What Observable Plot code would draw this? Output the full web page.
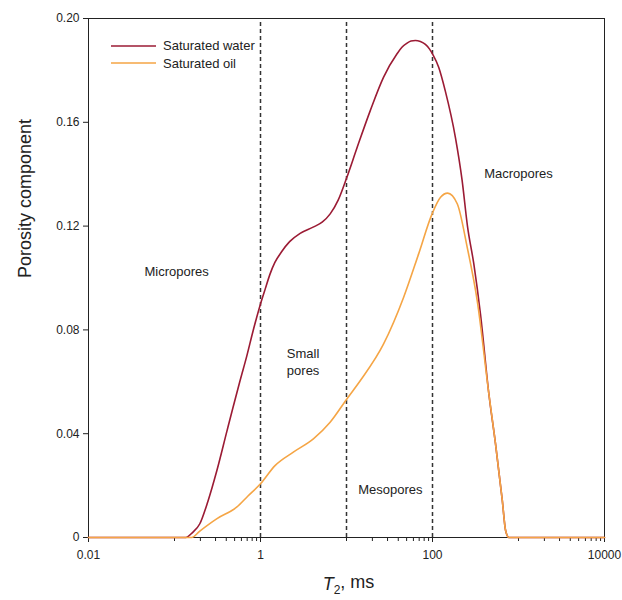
<!DOCTYPE html>
<html>
<head>
<meta charset="utf-8">
<script src="https://cdn.jsdelivr.net/npm/d3@7"></script>
<script src="https://cdn.jsdelivr.net/npm/@observablehq/plot@0.6"></script>
<style>
  body { margin: 0; background: #fff; font-family: "Liberation Sans", Arial, sans-serif; }
  #wrap { position: relative; width: 622px; height: 600px; }
  #legend { position: absolute; left: 111px; top: 37px; font-size: 13px; color: #222; }
  #legend .row { display: flex; align-items: center; height: 17.5px; }
  #legend svg { margin-right: 7px; }
</style>
</head>
<body>
<div id="wrap"></div>
<script>
// ---- data (T2 in ms, porosity component) ----
const waterT = [0.01, 0.135, 0.163, 0.197, 0.245, 0.311, 0.407, 0.478, 0.577, 0.696, 0.818, 1.0, 1.14, 1.29, 1.47, 1.75, 2.18, 2.89, 4.09, 5.21, 6.46, 8.0, 10.1, 13.2, 18.9, 27.0, 38.7, 44.1, 50.6, 56.2, 63.2, 72.3, 82.7, 92.0, 100.5, 118, 141, 185, 221, 255, 302, 361, 452, 541, 648, 708, 773, 10000];
const waterV = [0, 0, 0.002, 0.0053, 0.014, 0.0258, 0.041, 0.050, 0.0603, 0.0702, 0.0795, 0.090, 0.096, 0.1015, 0.106, 0.110, 0.114, 0.1172, 0.1196, 0.1215, 0.1247, 0.130, 0.1388, 0.150, 0.1645, 0.1774, 0.1864, 0.1889, 0.1905, 0.1913, 0.1915, 0.1911, 0.1900, 0.1883, 0.1862, 0.1812, 0.172, 0.154, 0.1376, 0.120, 0.1055, 0.0862, 0.0554, 0.036, 0.0143, 0.0027, 0, 0];

const oilT = [0.01, 0.158, 0.197, 0.309, 0.528, 0.715, 1.0, 1.475, 2.41, 4.12, 6.45, 10.1, 14.5, 27.0, 46.2, 69.0, 98.9, 124, 150, 194, 253, 331, 452, 541, 648, 708, 773, 10000];
const oilV = [0, 0, 0.0025, 0.0072, 0.0117, 0.016, 0.0207, 0.0277, 0.0329, 0.038, 0.0444, 0.0534, 0.0605, 0.0746, 0.0926, 0.1093, 0.1247, 0.1311, 0.1327, 0.1286, 0.1119, 0.0913, 0.0554, 0.036, 0.0143, 0.0027, 0, 0];

const seriesNames = ["Saturated water", "Saturated oil"];
const seriesColors = ["#9b1b34", "#f5a545"];

const boundaries = [1, 10, 100];

const regionLabels = ["Micropores", "Small\npores", "Mesopores", "Macropores"];
const regionT = [0.106, 3.13, 32.3, 1000];
const regionV = [0.1029, 0.068, 0.0189, 0.1407];

const xMajorTicks = [0.01, 1, 100, 10000];
const xMinorTicks = [0.1, 0.2, 0.3, 0.4, 0.5, 0.6, 0.7, 0.8, 0.9,
                     10, 20, 30, 40, 50, 60, 70, 80, 90,
                     1000, 2000, 3000, 4000, 5000, 6000, 7000, 8000, 9000];
const yTicks = [0, 0.04, 0.08, 0.12, 0.16, 0.20];
const yTickLabels = ["0", "0.04", "0.08", "0.12", "0.16", "0.20"];

// ---- build tables ----
const water = waterT.map((t, i) => ({t, v: waterV[i]}));
const oil = oilT.map((t, i) => ({t, v: oilV[i]}));
const regions = regionLabels.map((label, i) => ({label, t: regionT[i], v: regionV[i]}));

const chart = Plot.plot({
  width: 622,
  height: 600,
  marginLeft: 88,
  marginRight: 18,
  marginTop: 18,
  marginBottom: 63,
  style: { fontFamily: "'Liberation Sans', Arial, sans-serif", fontSize: "12px", color: "#222", background: "#fff" },
  x: { type: "log", domain: [0.01, 10000] },
  y: { domain: [0, 0.2] },
  marks: [
    Plot.axisX({ ticks: xMinorTicks, tickFormat: () => "", tickSize: 4, label: null, stroke: "#222" }),
    Plot.axisX({ ticks: xMajorTicks, tickFormat: d => String(d), tickSize: 5, tickPadding: 8, label: null, stroke: "#222", fill: "#222" }),
    Plot.axisY({ ticks: yTicks, tickFormat: d => yTickLabels[yTicks.indexOf(d)], tickSize: 5, tickPadding: 4, label: null, stroke: "#222", fill: "#222" }),
    Plot.ruleX(boundaries, { y1: 0, y2: 0.2, stroke: "#333", strokeWidth: 1.5, strokeDasharray: "4,3" }),
    Plot.frame({ stroke: "#222", strokeWidth: 1 }),
    Plot.text(regions, { x: "t", y: "v", text: "label", fontSize: 13, lineHeight: 1.3, fill: "#222" }),
    Plot.line(water, { x: "t", y: "v", stroke: seriesColors[0], strokeWidth: 1.6, curve: "monotone-x" }),
    Plot.line(oil, { x: "t", y: "v", stroke: seriesColors[1], strokeWidth: 1.6, curve: "monotone-x" }),
    Plot.text(["Porosity component"], { frameAnchor: "left", dx: -63, rotate: -90, fontSize: 18, fill: "#222" }),
    Plot.text(["T2, ms"], { frameAnchor: "bottom", dx: 2, dy: 47, lineAnchor: "middle", fontSize: 18, fill: "#222", className: "xlabel" })
  ]
});

// italic T with subscript 2 for the x label
const xl = d3.select(chart).select("g.xlabel text");
xl.text(null);
xl.append("tspan").attr("font-style", "italic").text("T");
xl.append("tspan").attr("font-size", "12px").attr("dy", "0.3em").text("2");
xl.append("tspan").attr("dy", "-0.3em").text(", ms");

const wrap = document.getElementById("wrap");
wrap.appendChild(chart);

// legend
const legend = document.createElement("div");
legend.id = "legend";
seriesNames.forEach((name, i) => {
  const row = document.createElement("div");
  row.className = "row";
  row.innerHTML = `<svg width="45" height="4"><line x1="0" x2="45" y1="2" y2="2" stroke="${seriesColors[i]}" stroke-width="1.6"/></svg><span>${name}</span>`;
  legend.appendChild(row);
});
wrap.appendChild(legend);
</script>
</body>
</html>
